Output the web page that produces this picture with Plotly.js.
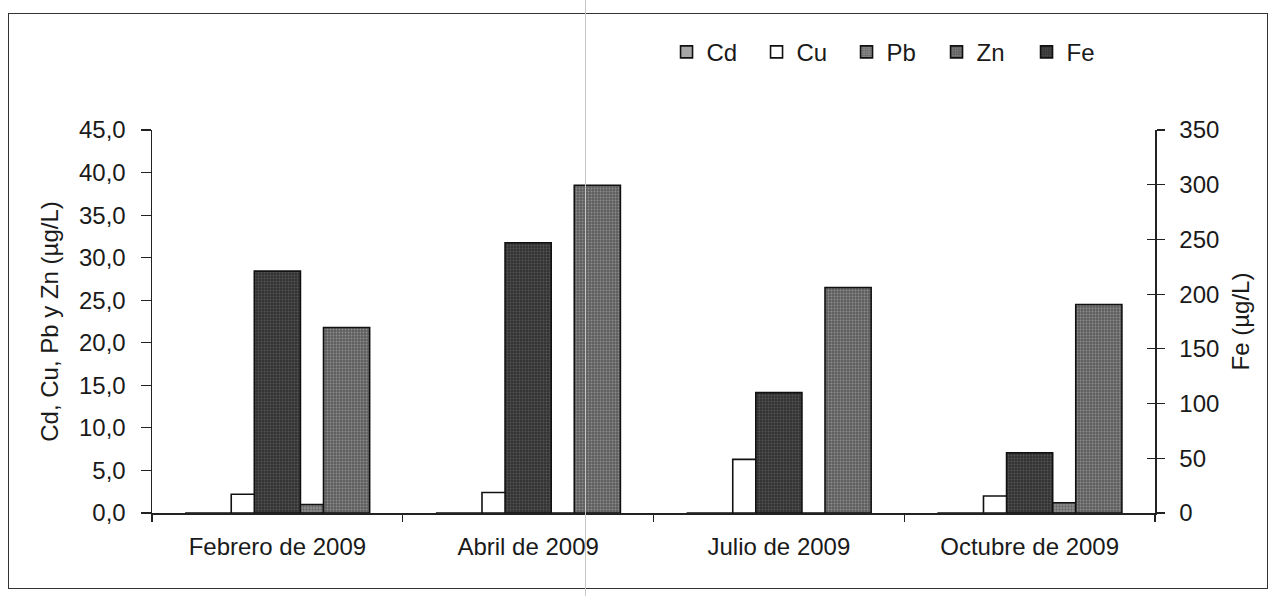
<!DOCTYPE html>
<html>
<head>
<meta charset="utf-8">
<script src="https://cdn.plot.ly/plotly-3.0.1.min.js"></script>
<style>
  html, body { margin: 0; padding: 0; background: #fff; }
  #wrap { position: relative; width: 1278px; height: 596px; }
  #chart { position: absolute; left: 0; top: 0; width: 1278px; height: 596px; }
  #frame { position: absolute; left: 8px; top: 13px; width: 1260px; height: 576px; border: 1.5px solid #333; pointer-events: none; box-sizing: border-box; }
  #fold { position: absolute; left: 585px; top: 0; width: 1px; height: 596px; background: #c8c8c8; pointer-events: none; }
</style>
</head>
<body>
<div id="wrap">
  <div id="chart"></div>
  <div id="frame"></div>
  <div id="fold"></div>
</div>
<script>
// Data
const categories = ["Febrero de 2009", "Abril de 2009", "Julio de 2009", "Octubre de 2009"];
const cd = [0, 0, 0, 0];
const cu = [2.2, 2.4, 6.3, 2.0];
const pb = [1.0, 0, 0, 1.2];
const zn = [21.8, 38.5, 26.5, 24.5];
const fe = [221, 247, 110, 55];

const font = "Liberation Sans, Arial, sans-serif";
const ink = "#1a1a1a";
const FS = 24;
const W = 0.184;

function barTrace(name, y, offset, color, pattern, axis) {
  const t = {
    type: "bar", name: name, x: categories, y: y,
    offset: offset, width: W,
    marker: { color: color, line: { color: "#111", width: 1.6 } },
    hoverinfo: "skip"
  };
  if (pattern) t.marker.pattern = pattern;
  if (axis) t.yaxis = axis;
  return t;
}

const traces = [
  barTrace("Cd", cd, -2 * W, "#a6a6a6", null),
  barTrace("Cu", cu, -W, "#ffffff", null),
  barTrace("Pb", pb, 0, "#888888", { shape: ".", fgcolor: "#5e5e5e", bgcolor: "#888888", size: 3, solidity: 0.3 }),
  barTrace("Zn", zn, W, "#666666", { shape: ".", fgcolor: "#8e8e8e", bgcolor: "#5e5e5e", size: 3, solidity: 0.3 }),
  barTrace("Fe", fe, -W / 2, "#363636", { shape: ".", fgcolor: "#555555", bgcolor: "#333333", size: 3, solidity: 0.3 }, "y2"),
  // empty helper trace so the inner tick axis (crossing ticks on the Fe axis) is rendered
  { type: "scatter", x: [], y: [], yaxis: "y3", showlegend: false, hoverinfo: "skip" }
];

const axisFont = { family: font, size: FS, color: ink };

const layout = {
  width: 1278, height: 596,
  paper_bgcolor: "#fff", plot_bgcolor: "rgba(0,0,0,0)",
  margin: { l: 152, r: 123, t: 130, b: 83 },
  font: axisFont,
  separators: ",.",
  barmode: "overlay",
  showlegend: true,
  legend: {
    orientation: "h", x: 0.513, y: 1.203, xanchor: "left", yanchor: "middle",
    font: axisFont,
    entrywidth: 45, entrywidthmode: "pixels",
    itemwidth: 30, traceorder: "normal", bgcolor: "rgba(0,0,0,0)"
  },
  xaxis: {
    type: "category",
    showline: true, linecolor: "#222", linewidth: 1.5,
    ticks: "outside", tickson: "boundaries", ticklen: 7, tickcolor: "#222", tickwidth: 1.2,
    ticklabelstandoff: 12,
    showgrid: false, zeroline: false,
    tickfont: axisFont
  },
  yaxis: {
    range: [0, 45], dtick: 5, tick0: 0, tickformat: ".1f",
    showline: true, linecolor: "#222", linewidth: 1.5,
    ticks: "outside", ticklen: 10, tickcolor: "#222", tickwidth: 1.2,
    ticklabelstandoff: 10,
    showgrid: false, zeroline: false,
    tickfont: axisFont,
    title: { text: "Cd, Cu, Pb y Zn (µg/L)", font: axisFont, standoff: 13 }
  },
  yaxis2: {
    overlaying: "y", side: "right",
    range: [0, 350], dtick: 50, tick0: 0,
    showline: true, linecolor: "#222", linewidth: 1.5,
    ticks: "outside", ticklen: 8, tickcolor: "#222", tickwidth: 1.2,
    ticklabelstandoff: 10,
    showgrid: false, zeroline: false,
    tickfont: axisFont,
    title: { text: "Fe (µg/L)", font: axisFont, standoff: 14 }
  },
  yaxis3: {
    overlaying: "y", side: "right",
    range: [0, 350], dtick: 50, tick0: 0, fixedrange: true,
    showline: false, ticks: "inside", ticklen: 8, tickcolor: "#222", tickwidth: 1.2,
    showticklabels: false, showgrid: false, zeroline: false
  }
};

Plotly.newPlot("chart", traces, layout, { displayModeBar: false, staticPlot: true });
</script>
</body>
</html>
